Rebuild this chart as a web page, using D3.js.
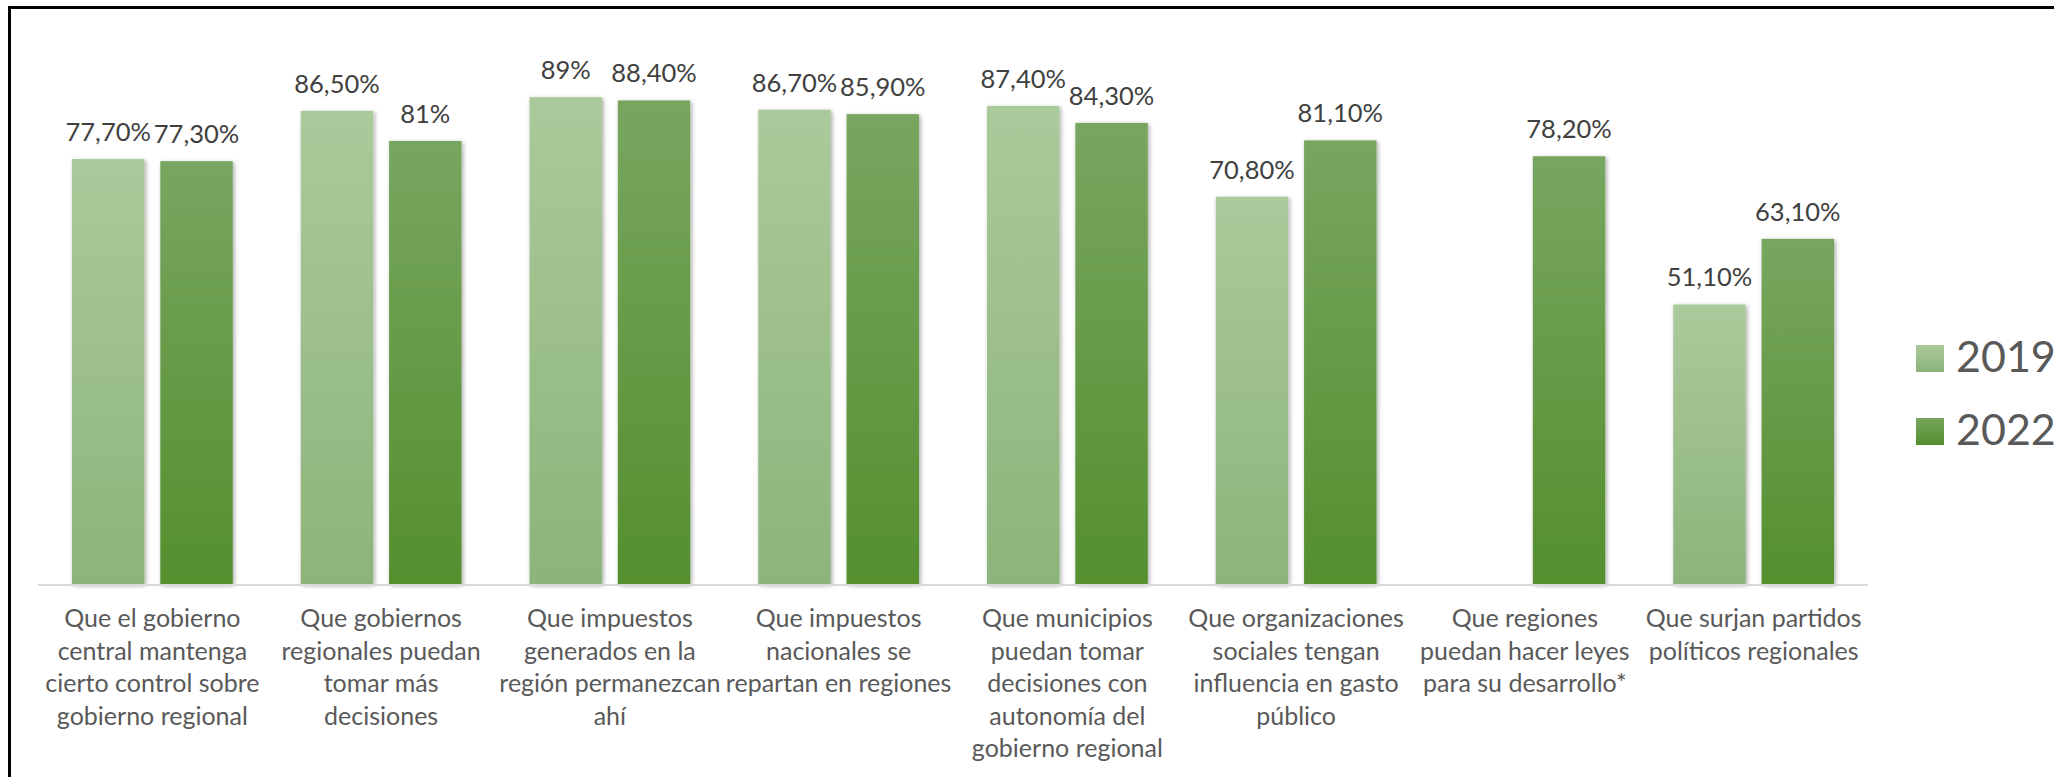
<!DOCTYPE html>
<html>
<head>
<meta charset="utf-8">
<title>Descentralización 2019 - 2022</title>
<script src="https://d3js.org/d3.v7.min.js"></script>
<style>
  body { margin: 0; background: #fff; }
  text { font-family: "Lato", "Noto Sans", sans-serif; }
</style>
</head>
<body>
<div id="chart"></div>
<script>
// categories (already split into the lines shown under each group)
var categories = [
  ["Que el gobierno", "central mantenga", "cierto control sobre", "gobierno regional"],
  ["Que gobiernos", "regionales puedan", "tomar más", "decisiones"],
  ["Que impuestos", "generados en la", "región permanezcan", "ahí"],
  ["Que impuestos", "nacionales se", "repartan en regiones"],
  ["Que municipios", "puedan tomar", "decisiones con", "autonomía del", "gobierno regional"],
  ["Que organizaciones", "sociales tengan", "influencia en gasto", "público"],
  ["Que regiones", "puedan hacer leyes", "para su desarrollo*"],
  ["Que surjan partidos", "políticos regionales"]
]
var years = ["2019", "2022"]
var values2019 = [77.7, 86.5, 89, 86.7, 87.4, 70.8, null, 51.1]
var values2022 = [77.3, 81, 88.4, 85.9, 84.3, 81.1, 78.2, 63.1]

var width = 2054, height = 777
var margin = {top: 37, left: 38, right: 186, bottom: 193}

var svg = d3.select("#chart").append("svg")
    .attr("width", width)
    .attr("height", height)

// gradients + shadow, excel style
var defs = svg.append("defs")
var grads = [["g2019", "#abca9b", "#8cb47a"], ["g2022", "#78a660", "#548f2e"]]
grads.forEach(function (g) {
  var lg = defs.append("linearGradient").attr("id", g[0])
      .attr("x1", 0).attr("y1", 0).attr("x2", 0).attr("y2", 1)
  lg.append("stop").attr("offset", "0%").attr("stop-color", g[1])
  lg.append("stop").attr("offset", "100%").attr("stop-color", g[2])
})
var shadow = defs.append("filter").attr("id", "shadow")
    .attr("x", "-20%").attr("y", "-5%").attr("width", "140%").attr("height", "110%")
shadow.append("feDropShadow").attr("dx", 1.5).attr("dy", 1.5)
    .attr("stdDeviation", 2).attr("flood-color", "#000").attr("flood-opacity", 0.35)

// outer frame (runs off the right and bottom of the picture)
svg.append("rect")
    .attr("x", 9.5).attr("y", 7.5)
    .attr("width", width + 20).attr("height", height + 20)
    .attr("fill", "none").attr("stroke", "#000").attr("stroke-width", 3)

var baseY = height - margin.bottom

// 8 groups of ~228.5 px, bars 72 wide with a 16 px gap
var x = d3.scaleBand().domain(d3.range(categories.length))
    .range([margin.left, width - margin.right]).padding(0)
var xs = d3.scaleBand().domain(years)
    .range([34, x.bandwidth() - 34]).paddingInner(0.18)

var y = d3.scaleLinear().domain([0, 100]).range([baseY, margin.top])

var rows = []
categories.forEach(function (c, i) {
  rows.push({i: i, year: "2019", v: values2019[i]})
  rows.push({i: i, year: "2022", v: values2022[i]})
})
var bars = rows.filter(function (d) { return d.v != null })

var fmt = function (v) {
  return (Number.isInteger(v) ? v : v.toFixed(2)).toString().replace(".", ",") + "%"
}

svg.append("g").selectAll("rect")
  .data(bars)
  .enter().append("rect")
    .attr("x", function (d) { return x(d.i) + xs(d.year) })
    .attr("y", function (d) { return y(d.v) })
    .attr("width", xs.bandwidth())
    .attr("height", function (d) { return baseY - y(d.v) })
    .attr("fill", function (d) { return "url(#g" + d.year + ")" })
    .attr("filter", "url(#shadow)")

// axis line
svg.append("line")
    .attr("x1", x.range()[0]).attr("x2", x.range()[1])
    .attr("y1", baseY + 1).attr("y2", baseY + 1)
    .attr("stroke", "#d9d9d9").attr("stroke-width", 2)

// data labels
svg.append("g").selectAll("text")
  .data(bars)
  .enter().append("text")
    .attr("x", function (d) { return x(d.i) + xs(d.year) + xs.bandwidth() / 2 })
    .attr("y", function (d) { return y(d.v) - 18 })
    .attr("text-anchor", "middle")
    .attr("font-size", 25.5)
    .attr("fill", "#404040")
    .text(function (d) { return fmt(d.v) })

// category labels
var cat = svg.append("g").selectAll("text")
  .data(categories)
  .enter().append("text")
    .attr("text-anchor", "middle")
    .attr("font-size", 25)
    .attr("fill", "#595959")
    .attr("transform", function (d, i) { return "translate(" + (x(i) + x.bandwidth() / 2) + "," + 627 + ")" })
cat.selectAll("tspan")
  .data(function (d) { return d })
  .enter().append("tspan")
    .attr("x", 0)
    .attr("y", function (d, j) { return j * 32.5 })
    .text(function (d) { return d })

// legend
var leg = svg.append("g").selectAll("g")
  .data(years)
  .enter().append("g")
    .attr("transform", function (d, i) { return "translate(1916," + (345 + i * 73) + ")" })
leg.append("rect")
    .attr("width", 28).attr("height", 27)
    .attr("fill", function (d) { return "url(#g" + d + ")" })
leg.append("text")
    .attr("x", 40).attr("y", 27)
    .attr("font-size", 43)
    .attr("fill", "#595959")
    .text(function (d) { return d })
</script>
</body>
</html>
